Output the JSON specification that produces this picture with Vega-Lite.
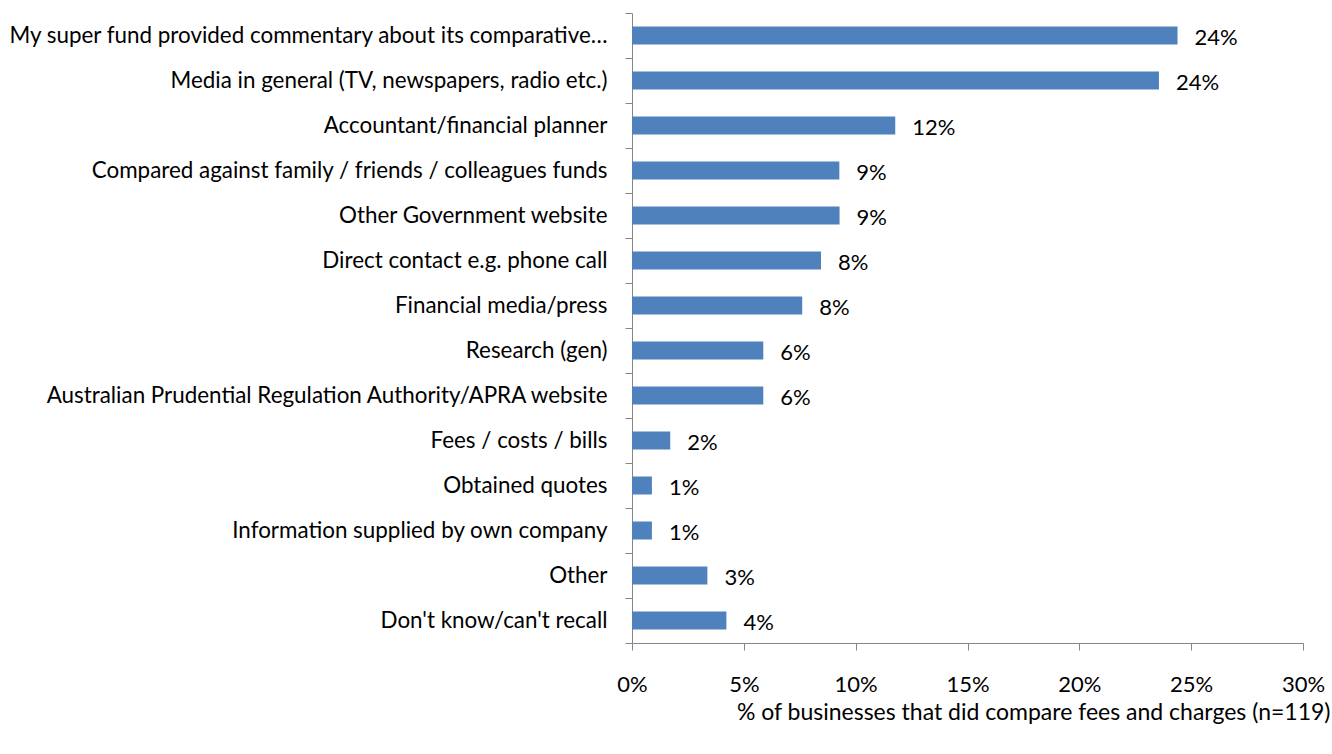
{
  "$schema": "https://vega.github.io/schema/vega-lite/v6.json",
  "width": 671,
  "height": 630,
  "autosize": {"type": "none"},
  "padding": {"left": 632, "top": 13, "right": 29, "bottom": 111},
  "background": "white",
  "config": {"view": {"stroke": null}, "font": "Lato"},
  "data": {
    "values": [
      {"source": "My super fund provided commentary about its comparative…", "pct": 0.2439},
      {"source": "Media in general (TV, newspapers, radio etc.)", "pct": 0.2356},
      {"source": "Accountant/financial planner", "pct": 0.1177},
      {"source": "Compared against family / friends / colleagues funds", "pct": 0.0927},
      {"source": "Other Government website", "pct": 0.0928},
      {"source": "Direct contact e.g. phone call", "pct": 0.0845},
      {"source": "Financial media/press", "pct": 0.0761},
      {"source": "Research (gen)", "pct": 0.0587},
      {"source": "Australian Prudential Regulation Authority/APRA website", "pct": 0.0587},
      {"source": "Fees / costs / bills", "pct": 0.0171},
      {"source": "Obtained quotes", "pct": 0.0089},
      {"source": "Information supplied by own company", "pct": 0.0089},
      {"source": "Other", "pct": 0.0337},
      {"source": "Don't know/can't recall", "pct": 0.0422}
    ]
  },
  "encoding": {
    "y": {
      "field": "source",
      "type": "nominal",
      "sort": null,
      "scale": {"paddingInner": 0, "paddingOuter": 0},
      "axis": {
        "title": null,
        "domainColor": "#868686",
        "tickColor": "#868686",
        "tickSize": 7,
        "tickBand": "extent",
        "labelFont": "Lato",
        "labelFontSize": 22.4,
        "labelColor": "#000000",
        "labelPadding": 18,
        "labelLimit": 700
      }
    },
    "x": {
      "field": "pct",
      "type": "quantitative",
      "scale": {"domain": [0, 0.3], "nice": false},
      "axis": {
        "values": [0, 0.05, 0.1, 0.15, 0.2, 0.25, 0.3],
        "format": ".0%",
        "grid": false,
        "domainColor": "#868686",
        "tickColor": "#868686",
        "tickSize": 7,
        "labelFlush": false,
        "labelFont": "Lato",
        "labelFontSize": 22,
        "labelColor": "#000000",
        "labelPadding": 24,
        "title": "% of businesses that did compare fees and charges (n=119)",
        "titleFont": "Lato",
        "titleFontSize": 23,
        "titleFontWeight": "normal",
        "titleColor": "#000000",
        "titleAnchor": "end",
        "titleAlign": "right",
        "titleBaseline": "middle",
        "titleX": 698,
        "titleY": 69
      }
    }
  },
  "layer": [
    {"mark": {"type": "bar", "height": {"band": 0.4}, "color": "#4F81BD"}},
    {
      "mark": {"type": "text", "align": "left", "baseline": "middle", "dx": 17, "dy": 2, "fontSize": 22, "font": "Lato", "color": "#000000"},
      "encoding": {"text": {"field": "pct", "type": "quantitative", "format": ".0%"}}
    }
  ]
}
